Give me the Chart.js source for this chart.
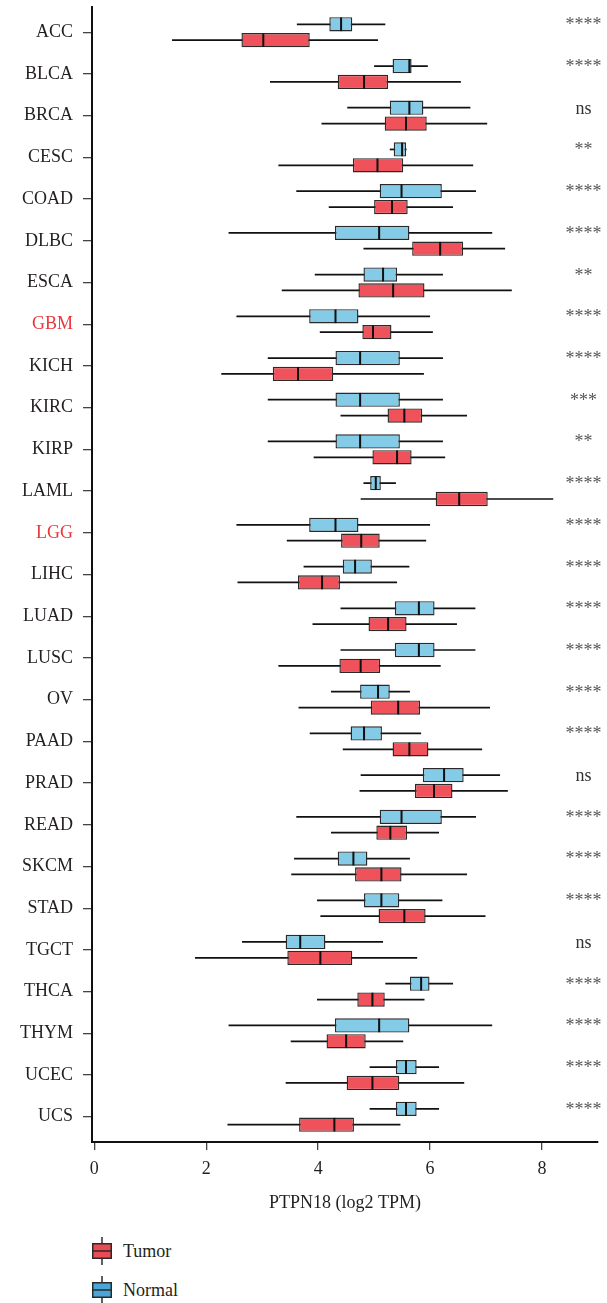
<!DOCTYPE html>
<html>
<head>
<meta charset="utf-8">
<script src="https://cdn.jsdelivr.net/npm/chart.js@4.4.1/dist/chart.umd.min.js"></script>
<style>
  body { margin: 0; background: #fff; }
  #wrap { position: relative; width: 607px; height: 1303px; }
  #chart { position: absolute; left: 0; top: 0; }
  .leg { position: absolute; left: 88px; display: flex; align-items: center;
         font: 18px "Liberation Serif", "DejaVu Serif", serif; color: #231f20; }
  .leg canvas { margin-right: 7px; }
</style>
</head>
<body>
<div id="wrap">
  <canvas id="chart" width="607" height="1218"></canvas>
  <div class="leg" style="top:1236px"><canvas id="icoTumor" width="28" height="30"></canvas>Tumor</div>
  <div class="leg" style="top:1275px"><canvas id="icoNormal" width="28" height="30"></canvas>Normal</div>
</div>
<script>
const cancers = ["ACC","BLCA","BRCA","CESC","COAD","DLBC","ESCA","GBM","KICH","KIRC","KIRP","LAML","LGG","LIHC",
  "LUAD","LUSC","OV","PAAD","PRAD","READ","SKCM","STAD","TGCT","THCA","THYM","UCEC","UCS"];
const highlighted = ["GBM", "LGG"];
const sig = ["****","****","ns","**","****","****","**","****","****","***","**","****","****","****",
  "****","****","****","****","ns","****","****","****","ns","****","****","****","****"];

// Normal (GTEx + TCGA normal)
const normalMin = [3.62,5.00,4.52,5.28,3.61,2.40,3.94,2.54,3.10,3.10,3.10,4.81,2.54,3.74,4.40,4.40,4.23,3.85,4.76,3.61,3.57,3.98,2.64,5.20,2.40,4.92,4.92];
const normalQ1  = [4.20,5.33,5.28,5.35,5.10,4.30,4.81,3.84,4.31,4.31,4.31,4.93,3.84,4.44,5.37,5.37,4.75,4.58,5.87,5.10,4.35,4.82,3.42,5.64,4.30,5.39,5.39];
const normalMed = [4.41,5.63,5.63,5.50,5.49,5.09,5.16,4.31,4.75,4.75,4.75,5.03,4.31,4.66,5.80,5.80,5.07,4.82,6.25,5.49,4.63,5.13,3.68,5.84,5.09,5.57,5.57];
const normalQ3  = [4.61,5.67,5.88,5.57,6.21,5.63,5.41,4.72,5.46,5.46,5.46,5.12,4.72,4.96,6.08,6.08,5.28,5.14,6.60,6.21,4.88,5.45,4.13,5.99,5.63,5.76,5.76];
const normalMax = [5.20,5.96,6.72,5.58,6.82,7.11,6.23,6.00,6.23,6.23,6.23,5.39,6.00,5.63,6.81,6.81,5.64,5.84,7.25,6.82,5.64,6.22,5.16,6.41,7.11,6.16,6.16];

// Tumor
const tumorMin = [1.39,3.14,4.06,3.29,4.19,4.81,3.35,4.03,2.27,4.40,3.92,4.76,3.44,2.56,3.90,3.29,3.65,4.44,4.74,4.23,3.52,4.04,1.80,3.98,3.51,3.42,2.38];
const tumorQ1  = [2.63,4.35,5.19,4.62,5.00,5.68,4.72,4.79,3.19,5.24,4.97,6.10,4.41,3.64,4.90,4.38,4.94,5.33,5.73,5.04,4.66,5.08,3.45,4.70,4.15,4.51,3.66];
const tumorMed = [3.02,4.82,5.57,5.06,5.32,6.18,5.34,4.98,3.64,5.54,5.41,6.52,4.77,4.07,5.25,4.76,5.43,5.63,6.07,5.29,5.13,5.54,4.04,4.97,4.50,4.97,4.29];
const tumorQ3  = [3.85,5.25,5.94,5.52,5.60,6.59,5.90,5.31,4.27,5.86,5.67,7.03,5.10,4.39,5.58,5.11,5.82,5.97,6.40,5.59,5.49,5.92,4.61,5.19,4.85,5.45,4.64];
const tumorMax = [5.07,6.55,7.02,6.77,6.41,7.34,7.46,6.05,5.89,6.66,6.27,8.20,5.93,5.41,6.48,6.19,7.07,6.93,7.39,6.16,6.66,6.99,5.77,5.90,5.52,6.61,5.47];

const xTicks = [0, 2, 4, 6, 8];
const xTitle = "PTPN18 (log2 TPM)";

const tumorColor = "#ef525a";
const normalColor = "#83cbe7";
const lineColor = "#111";
const textColor = "#231f20";
const redText = "#e8383d";
const serif = '"Liberation Serif", "DejaVu Serif", serif';
const catPct = 0.76;
const medHalf = 0.018;

function ranges(lo, hi) {
  return cancers.map((c, i) => ({ y: i, x: [lo[i], hi[i]] }));
}

function medians(med) {
  return cancers.map((c, i) => ({ y: i, x: [med[i] - medHalf, med[i] + medHalf] }));
}

const datasets = [
  { label: "Normal median", stack: "normal", order: 0, data: medians(normalMed),
    backgroundColor: lineColor, barPercentage: 0.86 },
  { label: "Tumor median", stack: "tumor", order: 0, data: medians(tumorMed),
    backgroundColor: lineColor, barPercentage: 0.86 },
  { label: "Normal", stack: "normal", order: 1, data: ranges(normalQ1, normalQ3),
    backgroundColor: normalColor, borderColor: "#2a2a2a", borderWidth: 1.4, borderSkipped: false, barPercentage: 0.9 },
  { label: "Tumor", stack: "tumor", order: 1, data: ranges(tumorQ1, tumorQ3),
    backgroundColor: tumorColor, borderColor: "#2a2a2a", borderWidth: 1.4, borderSkipped: false, barPercentage: 0.9 },
  { label: "Normal whisker", stack: "normal", order: 2, data: ranges(normalMin, normalMax),
    backgroundColor: lineColor, barPercentage: 0.11 },
  { label: "Tumor whisker", stack: "tumor", order: 2, data: ranges(tumorMin, tumorMax),
    backgroundColor: lineColor, barPercentage: 0.11 }
];
datasets.forEach(d => { d.categoryPercentage = catPct; });

// significance marks at the right
const sigLabels = {
  id: "sigLabels",
  afterDatasetsDraw(chart) {
    const { ctx, scales: { x, y } } = chart;
    ctx.save();
    ctx.font = "18px " + serif;
    ctx.textAlign = "center";
    ctx.textBaseline = "alphabetic";
    sig.forEach((s, i) => {
      ctx.fillStyle = s === "ns" ? "#333" : "#555";
      ctx.fillText(s, x.getPixelForValue(8.74), y.getPixelForValue(i) - 2);
    });
    ctx.restore();
  }
};

new Chart(document.getElementById("chart"), {
  type: "bar",
  data: { datasets },
  plugins: [sigLabels],
  options: {
    indexAxis: "y",
    responsive: false,
    devicePixelRatio: 1,
    animation: false,
    layout: { padding: { top: 7, right: 9, left: 0, bottom: 0 } },
    plugins: { legend: { display: false }, tooltip: { enabled: false } },
    scales: {
      x: {
        type: "linear",
        position: "bottom",
        min: -0.04,
        max: 9,
        stacked: false,
        afterBuildTicks: axis => { axis.ticks = xTicks.map(v => ({ value: v })); },
        afterFit: s => { s.height = 76; },
        border: { display: true, color: lineColor, width: 2 },
        grid: { drawOnChartArea: false, drawTicks: true, tickLength: 8, color: "#444", lineWidth: 1.3 },
        ticks: { font: { family: serif, size: 18 }, color: textColor, padding: 8, maxRotation: 0 },
        title: { display: true, text: xTitle, font: { family: serif, size: 18 }, color: textColor,
                 padding: { top: 0, bottom: 4 } }
      },
      y: {
        type: "linear",
        reverse: true,
        offset: false,
        min: -0.605,
        max: 26.605,
        afterBuildTicks: axis => { axis.ticks = cancers.map((c, i) => ({ value: i })); },
        afterFit: s => { s.width = 92; s.paddingTop = 0; s.paddingBottom = 0; },
        border: { display: true, color: lineColor, width: 2 },
        grid: { offset: false, drawOnChartArea: false, drawTicks: true, tickLength: 9, color: "#444", lineWidth: 1.3 },
        ticks: {
          autoSkip: false,
          padding: 10,
          font: { family: serif, size: 18 },
          callback: v => cancers[v],
          color: c => highlighted.includes(cancers[c.tick.value]) ? redText : textColor
        }
      }
    }
  }
});

// legend icons: small vertical box glyphs
function drawIcon(id, fill) {
  const ctx = document.getElementById(id).getContext("2d");
  ctx.strokeStyle = "#2a2a2a";
  ctx.lineWidth = 1.5;
  ctx.beginPath();
  ctx.moveTo(14, 1); ctx.lineTo(14, 29);
  ctx.stroke();
  ctx.fillStyle = fill;
  ctx.fillRect(4, 7, 20, 16);
  ctx.strokeRect(4.75, 7.75, 18.5, 14.5);
  ctx.beginPath();
  ctx.moveTo(4, 15); ctx.lineTo(24, 15);
  ctx.stroke();
}
drawIcon("icoTumor", "#ec4b53");
drawIcon("icoNormal", "#4aa6d6");
</script>
</body>
</html>
